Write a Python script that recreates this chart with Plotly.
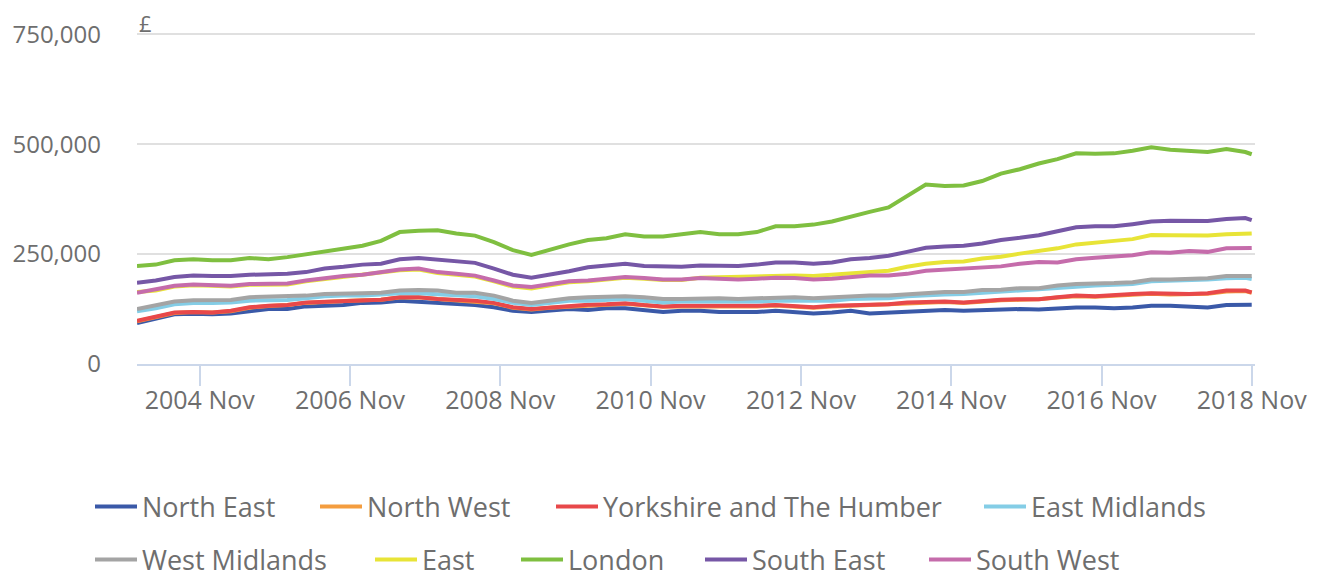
import pandas as pd
import plotly.graph_objects as go

# ---------------- data (average house price, £) ----------------
dates = list(pd.date_range("2004-01-01", periods=60, freq="3MS").strftime("%Y-%m-%d")) + ["2018-11-01"]

north_east = [93000, 103500, 113000, 114500, 113000, 115000, 121000, 125000, 125000, 131000, 132500, 134000, 139000, 140000, 144000, 142000,
              139000, 136000, 134000, 129000, 121000, 118000, 121000, 125000, 123000, 127000, 127000, 123000, 118000, 121000, 121000, 118000,
              117000, 118000, 121000, 118000, 115000, 117000, 121000, 115000, 117000, 121000, 123000, 123000, 121000, 123000,
              125000, 125000, 124000, 126500, 128500, 128500, 126500, 128500, 132500, 132500, 131000, 128500, 134000, 135000,
              134500]
north_west = [97000, 107000, 116000, 118000, 117000, 120000, 128000, 132000, 134000, 139000, 142000, 143000, 145000, 146000, 151000, 152000,
              148000, 145000, 143000, 138000, 128000, 124000, 128000, 131000, 134000, 135000, 137000, 133000, 130000, 131000, 131000, 131000,
              130000, 131000, 133000, 131000, 128000, 131000, 133000, 135000, 135000, 139000, 141000, 141000, 139000, 143000,
              145000, 146000, 147000, 151000, 154000, 153000, 155000, 158000, 160000, 158000, 158000, 160000, 165000, 166000,
              162000]
yorkshire = [98000, 108000, 117000, 118000, 117000, 121000, 129000, 132500, 134000, 140000, 142000, 144000, 145500, 146000, 152000, 152000,
             148000, 146000, 144000, 139000, 129000, 125000, 129000, 132500, 135000, 136000, 138000, 134000, 131000, 132500, 132500, 132500,
             131000, 132500, 134000, 132500, 129000, 132500, 134000, 136000, 136000, 140000, 142000, 142000, 140000, 144000,
             146000, 147500, 147500, 152000, 155500, 154000, 155500, 159000, 161000, 159000, 159000, 161000, 167000, 167000,
             163000]
east_midlands = [120000, 126500, 136000, 139000, 139000, 140000, 144000, 145500, 145500, 149500, 154000, 155500, 155500, 158000, 161000, 161000,
                 158000, 155500, 154000, 148000, 139000, 134000, 139000, 144000, 144000, 146000, 148000, 144000, 140000, 142000, 142000, 142000,
                 140000, 142000, 144000, 144000, 142000, 144000, 148000, 148000, 149500, 154000, 157000, 158000, 159000, 162000,
                 165000, 167000, 169000, 172500, 177000, 178500, 180000, 182000, 188000, 189000, 190000, 192000, 195000, 196000,
                 193500]
west_midlands = [125000, 132500, 142000, 145000, 145500, 145500, 152000, 153000, 153000, 155500, 159000, 161000, 161000, 162000, 167000, 168000,
                 167000, 162000, 162000, 155500, 144000, 139000, 144000, 149500, 152000, 153000, 154000, 152000, 148000, 148000, 149500, 149500,
                 148000, 149500, 152000, 152000, 149500, 152000, 154000, 155500, 155500, 159000, 162000, 164000, 164000, 168000,
                 169000, 172500, 172500, 178500, 182000, 182000, 184000, 186000, 192000, 192000, 193500, 195000, 200000, 201500,
                 200000]
east = [164000, 167000, 176000, 179000, 178000, 176000, 180000, 181000, 181000, 188000, 193000, 198000, 201000, 207000, 213000, 215000,
        207000, 203000, 199000, 188000, 176000, 172000, 179000, 186000, 188000, 192000, 196000, 194000, 191000, 191000, 196000, 197000,
        198500, 200000, 201000, 201000, 200000, 203000, 208000, 211000, 212000, 221000, 228000, 232000, 233000, 240000,
        244000, 251000, 257000, 263000, 272000, 277000, 280000, 284000, 293500, 293000, 293000, 292000, 295000, 297000,
        297000]
london = [223000, 226000, 236000, 238000, 236000, 236000, 241000, 238000, 243000, 249000, 257000, 263000, 269000, 280000, 300000, 303000,
          304000, 297000, 292000, 277000, 259000, 248000, 261000, 272000, 282000, 286000, 295000, 290000, 290000, 295000, 300000, 295000,
          295000, 300000, 313000, 313000, 317000, 324000, 336000, 346000, 356000, 382000, 408000, 405000, 406000, 416000,
          433000, 443000, 456000, 466000, 479000, 478000, 479000, 485000, 493000, 487000, 484000, 482000, 489000, 482000,
          477000]
south_east = [185000, 190000, 198000, 201000, 200000, 200000, 203000, 203000, 205000, 209000, 217000, 221000, 226000, 228000, 238000, 241000,
              238000, 235000, 230000, 217000, 203000, 196000, 203000, 211000, 220000, 224000, 228000, 223000, 221000, 221000, 224000, 223000,
              223000, 226000, 231000, 231000, 228000, 231000, 238000, 241000, 246000, 255000, 264500, 267000, 269000, 274000,
              282000, 287000, 293000, 302000, 311000, 313000, 313000, 318000, 324000, 326000, 325000, 325000, 330000, 332000,
              327000]
south_west = [162000, 169000, 178000, 181000, 180000, 178000, 182000, 183000, 183000, 190000, 195500, 200000, 203000, 209000, 215000, 217000,
              209000, 205000, 201000, 190000, 178500, 175000, 182000, 188000, 190000, 194000, 198000, 195500, 192000, 192000, 195500, 194000,
              192000, 194000, 196000, 195500, 192000, 194000, 198000, 201000, 201000, 205000, 212000, 215000, 217000, 221000,
              222000, 228000, 232000, 231000, 238000, 241500, 244000, 247500, 254000, 253000, 257000, 255000, 263000, 264000,
              264000]

region_names = ["North East", "North West", "Yorkshire and The Humber", "East Midlands",
                "West Midlands", "East", "London", "South East", "South West"]
region_values = [north_east, north_west, yorkshire, east_midlands,
                 west_midlands, east, london, south_east, south_west]

x_tick_vals = ["2004-11-01", "2006-11-01", "2008-11-01", "2010-11-01",
               "2012-11-01", "2014-11-01", "2016-11-01", "2018-11-01"]
x_tick_text = ["2004 Nov", "2006 Nov", "2008 Nov", "2010 Nov",
               "2012 Nov", "2014 Nov", "2016 Nov", "2018 Nov"]
y_tick_vals = [0, 250000, 500000, 750000]
y_tick_text = ["0", "250,000", "500,000", "750,000"]

# ---------------- style ----------------
colors = ["#3a59a8", "#f49d3f", "#e8484a", "#84cde6", "#a4a4a4",
          "#e8e437", "#7fbf40", "#7657a6", "#c56cab"]
FONT = "Open Sans"
TEXT_COLOR = "#6e6e6e"
AXIS_BLUE = "#cbd7ea"

W, H = 1320, 576
# the page body adds an 8px offset; geometry below is in figure coordinates
L, R, T, B = 129, 73, 24, 220
PW = W - L - R
PH = H - T - B

# legend symbol-start pixel positions (x) and row centres (y), page coordinates
legend_px = [(96, 508), (321, 508), (557, 508), (985, 508),
             (96, 561), (376, 561), (522, 561), (706, 561), (930, 561)]

fig = go.Figure()
for i, (name, vals, col) in enumerate(zip(region_names, region_values, colors)):
    lg = "legend" if i == 0 else f"legend{i + 1}"
    fig.add_trace(go.Scatter(x=dates, y=vals, name=name, mode="lines",
                             line=dict(color=col, width=4), legend=lg,
                             hoverinfo="x+y+name"))

layout_legends = {}
for i, (px, py) in enumerate(legend_px):
    key = "legend" if i == 0 else f"legend{i + 1}"
    layout_legends[key] = dict(
        x=(px - 14 - L) / PW, xanchor="left",
        y=(H - B - (py - 9)) / PH, yanchor="middle",
        orientation="h", bgcolor="rgba(0,0,0,0)", borderwidth=0,
        font=dict(family=FONT, size=27, color=TEXT_COLOR),
        itemwidth=42, tracegroupgap=0,
    )

# "£" unit label just above the plot's top-left corner
pound_y = (H - B - 15) / PH

fig.update_layout(
    width=W, height=H,
    margin=dict(l=L, r=R, t=T, b=B, autoexpand=False),
    paper_bgcolor="white", plot_bgcolor="white",
    font=dict(family=FONT, size=24, color=TEXT_COLOR),
    showlegend=True,
    **layout_legends,
    xaxis=dict(
        type="date", range=["2004-01-01", "2018-11-17"],
        tickmode="array", tickvals=x_tick_vals, ticktext=x_tick_text,
        ticks="outside", ticklen=20, tickwidth=1.5, tickcolor=AXIS_BLUE,
        showline=True, linecolor=AXIS_BLUE, linewidth=1.5,
        showgrid=False, zeroline=False, automargin=False,
        ticklabelstandoff=-7,
        tickfont=dict(family=FONT, size=25, color=TEXT_COLOR),
    ),
    yaxis=dict(
        range=[0, 755000], tickmode="array", tickvals=y_tick_vals, ticktext=y_tick_text,
        showgrid=True, gridcolor="#e0e0e0", gridwidth=2,
        zeroline=False, showline=False, ticks="", ticklabelstandoff=35,
        automargin=False,
        tickfont=dict(family=FONT, size=24, color=TEXT_COLOR),
    ),
    annotations=[dict(text="£", xref="paper", yref="paper", x=0, y=pound_y,
                      xanchor="left", yanchor="middle", xshift=0,
                      showarrow=False, font=dict(family=FONT, size=22, color=TEXT_COLOR))],
)

fig.write_html("out.html")
